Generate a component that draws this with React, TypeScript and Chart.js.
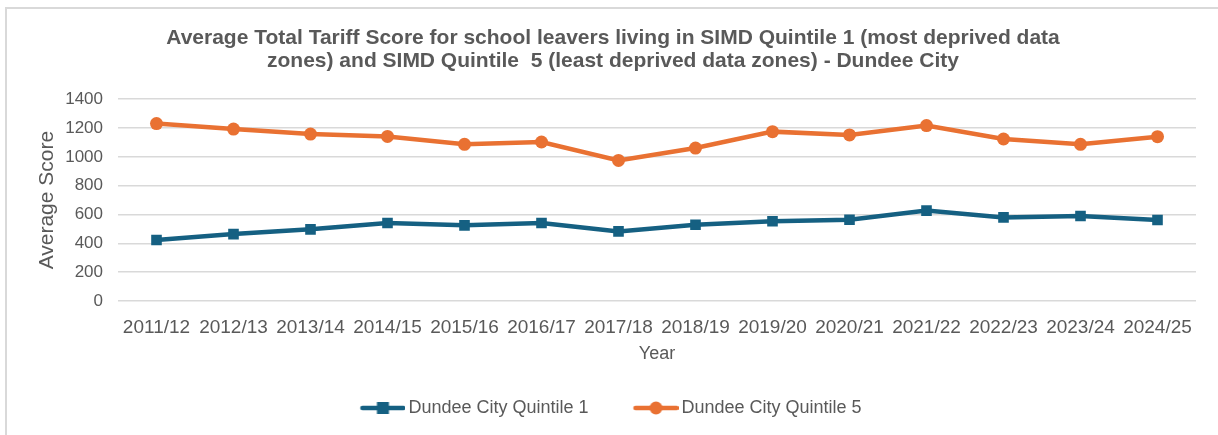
import React, { useEffect, useRef } from "react";
import { Chart, registerables } from "chart.js";

Chart.register(...registerables);

const categories = [
  "2011/12", "2012/13", "2013/14", "2014/15", "2015/16", "2016/17", "2017/18",
  "2018/19", "2019/20", "2020/21", "2021/22", "2022/23", "2023/24", "2024/25",
];
const quintile1 = [423, 464, 497, 541, 525, 541, 483, 529, 553, 564, 627, 580, 590, 562];
const quintile5 = [1231, 1193, 1158, 1142, 1087, 1103, 975, 1061, 1175, 1152, 1217, 1124, 1087, 1140];
const seriesNames = ["Dundee City Quintile 1", "Dundee City Quintile 5"];
const titleLines = [
  "Average Total Tariff Score for school leavers living in SIMD Quintile 1 (most deprived data",
  "zones) and SIMD Quintile  5 (least deprived data zones) - Dundee City",
];

const BLUE = "#156082";
const ORANGE = "#E97132";
const GREY = "#595959";
const FONT = "'Liberation Sans', Arial, sans-serif";

const ICON_BOX = 54;
const ICON_W = ICON_BOX + 12;

function legendIcon(color: string, square: boolean): HTMLCanvasElement {
  const c = document.createElement("canvas");
  c.width = ICON_W;
  c.height = 14;
  const ctx = c.getContext("2d")!;
  const x0 = ICON_W - 45;
  const cx = x0 + 22.5;
  ctx.strokeStyle = color;
  ctx.lineWidth = 4.5;
  ctx.lineCap = "round";
  ctx.beginPath();
  ctx.moveTo(x0 + 2, 7);
  ctx.lineTo(ICON_W - 2, 7);
  ctx.stroke();
  ctx.fillStyle = color;
  if (square) {
    ctx.fillRect(cx - 6, 1, 12, 12);
  } else {
    ctx.beginPath();
    ctx.arc(cx, 7, 6.5, 0, Math.PI * 2);
    ctx.fill();
  }
  return c;
}

const titleShift = {
  id: "titleShift",
  afterLayout(chart: any) {
    const t = chart.titleBlock;
    if (t) {
      t.left = 23;
      t.width = t.right - t.left;
    }
  },
};

export default function App() {
  const ref = useRef<HTMLCanvasElement | null>(null);
  useEffect(() => {
    if (!ref.current) return;
    const icons = [legendIcon(BLUE, true), legendIcon(ORANGE, false)];
    const chart = new Chart(ref.current, {
      type: "line",
      plugins: [titleShift],
      data: {
        labels: categories,
        datasets: [
          {
            label: seriesNames[0],
            data: quintile1,
            borderColor: BLUE,
            backgroundColor: BLUE,
            borderWidth: 4.5,
            pointStyle: "rect",
            pointRadius: 7.5,
            pointBorderWidth: 0,
            tension: 0,
          },
          {
            label: seriesNames[1],
            data: quintile5,
            borderColor: ORANGE,
            backgroundColor: ORANGE,
            borderWidth: 4.5,
            pointStyle: "circle",
            pointRadius: 6.5,
            pointBorderWidth: 0,
            tension: 0,
          },
        ],
      },
      options: {
        animation: false,
        responsive: true,
        maintainAspectRatio: false,
        layout: { padding: { left: 4, right: 22, top: 10, bottom: 8 } },
        plugins: {
          title: {
            display: true,
            text: titleLines,
            color: GREY,
            font: { family: FONT, size: 21, weight: "bold", lineHeight: 1.1 },
            padding: { top: 8, bottom: 26 },
          },
          legend: {
            position: "bottom",
            labels: {
              usePointStyle: true,
              pointStyleWidth: ICON_BOX,
              color: GREY,
              font: { family: FONT, size: 18 },
              padding: 30,
              generateLabels: (ch: any) =>
                ch.data.datasets.map((ds: any, i: number) => ({
                  text: ds.label,
                  pointStyle: icons[i],
                  fillStyle: ds.borderColor,
                  strokeStyle: ds.borderColor,
                  lineWidth: 0,
                  hidden: false,
                  datasetIndex: i,
                  fontColor: GREY,
                })),
            },
          },
          tooltip: { enabled: false },
        },
        scales: {
          x: {
            offset: true,
            grid: { display: false, drawTicks: false },
            border: { display: false },
            ticks: {
              color: GREY,
              font: { family: FONT, size: 19 },
              maxRotation: 0,
              autoSkip: false,
              padding: 15,
            },
            title: {
              display: true,
              text: "Year",
              color: GREY,
              font: { family: FONT, size: 18 },
              padding: { top: 0, bottom: 4 },
            },
            afterFit: (scale: any) => {
              scale.height = 68;
            },
          },
          y: {
            min: 0,
            max: 1400,
            grid: { color: "#d9d9d9", lineWidth: 1.5, drawTicks: false },
            border: { display: false },
            ticks: {
              stepSize: 200,
              color: GREY,
              font: { family: FONT, size: 17 },
              padding: 15,
              callback: (v: any) => String(v),
            },
            title: {
              display: true,
              text: "Average Score",
              color: GREY,
              font: { family: FONT, size: 21 },
              padding: { top: 24, bottom: 0 },
            },
            afterFit: (scale: any) => {
              scale.width = 107;
            },
          },
        },
      },
    });
    return () => chart.destroy();
  }, []);

  return (
    <div
      style={{
        position: "fixed",
        left: 5,
        top: 7,
        width: 1300,
        height: 500,
        borderLeft: "2px solid #d9d9d9",
        borderTop: "2px solid #d9d9d9",
        background: "#fff",
      }}
    >
      <div style={{ position: "absolute", left: 0, top: 0, width: 1211, height: 426 }}>
        <canvas ref={ref} />
      </div>
    </div>
  );
}
